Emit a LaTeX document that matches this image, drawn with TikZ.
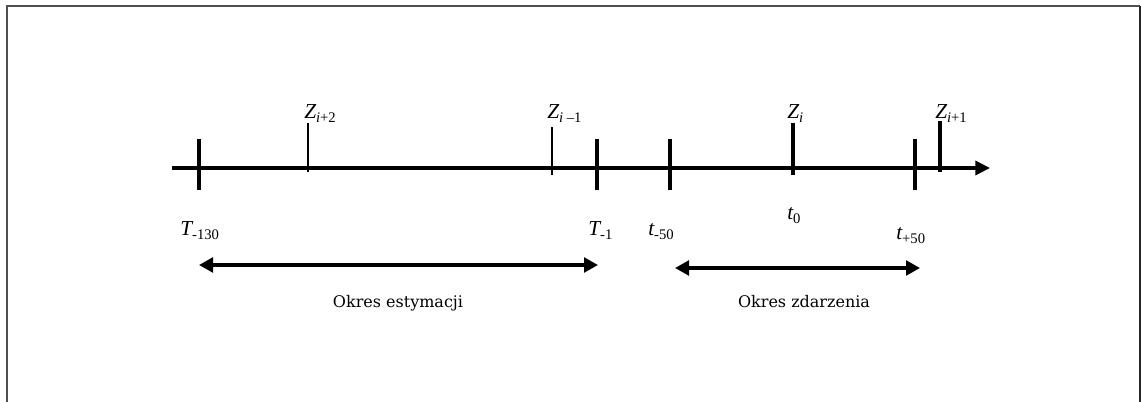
\documentclass[tikz,border=0pt]{standalone}
\usepackage{fontspec}
\setmainfont{Liberation Serif}
\newfontfamily\okresfont{DejaVu Serif}
\usetikzlibrary{arrows.meta}
\definecolor{framegray}{RGB}{80,80,80}
\newcommand\mylbl[2]{{\itshape #1}\raisebox{-2.7pt}{\fontsize{11}{11}\selectfont #2}}
\begin{document}
\begin{tikzpicture}[x=0.75pt,y=-0.75pt,
  framel/.style={line width=2pt,framegray},
  framer/.style={line width=2pt,black!85},
  axisline/.style={line width=2.6pt,-{Triangle[length=11pt,width=10.5pt]}},
  bigtick/.style={line width=2.5pt},
  smalltick/.style={line width=1.5pt},
  span/.style={line width=2.5pt,{Triangle[length=10.5pt,width=11pt]}-{Triangle[length=10.5pt,width=11pt]}},
  lab/.style={anchor=base west,inner sep=0pt,font=\fontsize{16}{16}\selectfont},
  okres/.style={anchor=base,inner sep=0pt,font=\okresfont\fontsize{12}{12}\selectfont}]
\useasboundingbox (0,0) rectangle (1142,402);
% frame
\coordinate (fbl) at (7,402);
\coordinate (ftl) at (7,6);
\coordinate (ftr) at (1140,6);
\coordinate (fbr) at (1140,402);
\draw[framel] (fbl) -- (ftl) -- (ftr);
\draw[framer] (ftr) -- (fbr);
% axis
\coordinate (axs) at (172,168);
\coordinate (axe) at (990,168);
\draw[axisline] (axs) -- (axe);
% ticks
\coordinate (a1) at (199,139); \coordinate (b1) at (199,190);
\coordinate (a2) at (308,123); \coordinate (b2) at (308,172);
\coordinate (a3) at (552,127); \coordinate (b3) at (552,175);
\coordinate (a4) at (597,139); \coordinate (b4) at (597,190);
\coordinate (a5) at (670,139); \coordinate (b5) at (670,190);
\coordinate (a6) at (793,123); \coordinate (b6) at (793,175);
\coordinate (a7) at (915,139); \coordinate (b7) at (915,190);
\coordinate (a8) at (940,121); \coordinate (b8) at (940,172);
\draw[bigtick] (a1) -- (b1);
\draw[smalltick] (a2) -- (b2);
\draw[smalltick] (a3) -- (b3);
\draw[bigtick] (a4) -- (b4);
\draw[bigtick] (a5) -- (b5);
\draw[bigtick] (a6) -- (b6);
\draw[bigtick] (a7) -- (b7);
\draw[bigtick] (a8) -- (b8);
% top labels
\node[lab] (zi2) at (304,119) {\mylbl{Z}{\textit{i}+2}};
\node[lab] (zim1) at (547,119) {\mylbl{Z}{\textit{i} –1}};
\node[lab] (zi) at (787,119) {\mylbl{Z}{\textit{i}}};
\node[lab] (zi1) at (935,119) {\mylbl{Z}{\textit{i}+1}};
% bottom labels
\node[lab] (tm130) at (180,236) {\mylbl{T}{-130}};
\node[lab] (tm1) at (588,236) {\mylbl{T}{-1}};
\node[lab] (tm50) at (648,236) {\mylbl{t}{-50}};
\node[lab] (t0) at (787,220) {\mylbl{t}{0}};
\node[lab] (tp50) at (896,240) {\mylbl{t}{+50}};
% spans
\coordinate (e1) at (199,265); \coordinate (e2) at (598,265);
\coordinate (d1) at (675,268); \coordinate (d2) at (920,268);
\draw[span] (e1) -- (e2);
\draw[span] (d1) -- (d2);
\node[okres] (est) at (398,308) {Okres estymacji};
\node[okres] (zd) at (804,308) {Okres zdarzenia};
\end{tikzpicture}
\end{document}
